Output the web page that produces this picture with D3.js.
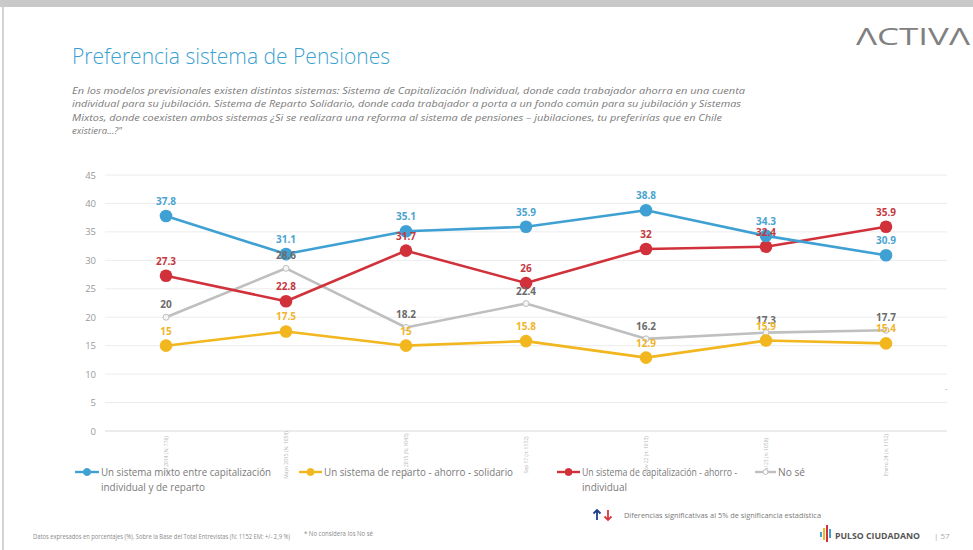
<!DOCTYPE html>
<html>
  <head>
    <meta charset="utf-8" />
    <title>Preferencia sistema de Pensiones</title>
    <script src="https://d3js.org/d3.v7.min.js"></script>
    <style>
        body { margin:0; background:#fff; }
        text { font-family: "Open Sans", "Noto Sans", sans-serif; }
    </style>
  </head>
  <body>
    <svg id="viz"></svg>
    <script>
    var width = 973, height = 550;

    // data
    var periods = ["Jul 2014 (N: 776)", "Mayo 2015 (N: 1059)", "Oct 2015 (N: 1043)", "Sep 17 (n: 1132)", "Nov 22 (n: 1013)", "Jul 23 (n: 1058)", "Enero 24 (n: 1152)"];
    var mixto = [37.8, 31.1, 35.1, 35.9, 38.8, 34.3, 30.9];
    var reparto = [15, 17.5, 15, 15.8, 12.9, 15.9, 15.4];
    var capitalizacion = [27.3, 22.8, 31.7, 26, 32, 32.4, 35.9];
    var noSe = [20, 28.6, 18.2, 22.4, 16.2, 17.3, 17.7];
    var yTicks = [0, 5, 10, 15, 20, 25, 30, 35, 40, 45];

    var series = [
      {name: "No sé", values: noSe, color: "#bfbfbf", label: "#6b6b6b", r: 3, hollow: true},
      {name: "Un sistema de reparto - ahorro - solidario", values: reparto, color: "#f2b61f", label: "#f0b52a", r: 6.3},
      {name: "Un sistema de capitalización - ahorro - individual", values: capitalizacion, color: "#d1313b", label: "#c4383f", r: 6.3},
      {name: "Un sistema mixto entre capitalización individual y de reparto", values: mixto, color: "#3fa1d3", label: "#4ba4d0", r: 6.3}
    ];

    var svg = d3.select("#viz").attr("width", width).attr("height", height);

    // slide frame
    svg.append("rect").attr("width", width).attr("height", height).attr("fill", "#fff");
    svg.append("rect").attr("x", 0).attr("y", 0).attr("width", width).attr("height", 7).attr("fill", "#c9c9c9");
    svg.append("rect").attr("x", 2).attr("y", 7).attr("width", 2).attr("height", height - 7).attr("fill", "#d4d4d4");

    // header
    svg.append("text").attr("x", 72).attr("y", 64)
      .attr("font-size", 22).attr("fill", "#3a9fd1").attr("font-weight", 300)
      .attr("textLength", 318).attr("lengthAdjust", "spacingAndGlyphs")
      .text("Preferencia sistema de Pensiones");

    svg.append("text").attr("x", 856).attr("y", 45)
      .attr("font-size", 23).attr("fill", "#808080").attr("font-weight", 400)
      .attr("textLength", 114).attr("lengthAdjust", "spacingAndGlyphs")
      .text("ΛCTIVΛ");

    var sub = [
      ["En los modelos previsionales existen distintos sistemas: Sistema de Capitalización Individual, donde cada trabajador ahorra en una cuenta", 673],
      ["individual para su jubilación. Sistema de Reparto Solidario, donde cada trabajador a porta a un fondo común para su jubilación y Sistemas", 669],
      ["Mixtos, donde coexisten ambos sistemas ¿Si se realizara una reforma al sistema de pensiones – jubilaciones, tu preferirías que en Chile", 650],
      ["existiera...?\"", 50]
    ];
    svg.append("g").selectAll("text").data(sub).enter().append("text")
      .attr("x", 72).attr("y", function(d, i) { return 94 + i * 13.3; })
      .attr("font-size", 9.3).attr("font-style", "italic").attr("fill", "#7a7a7a")
      .attr("textLength", function(d) { return d[1]; }).attr("lengthAdjust", "spacingAndGlyphs")
      .text(function(d) { return d[0]; });

    // chart
    var x = d3.scaleBand().domain(periods).range([106, 946]);
    var y = d3.scaleLinear().domain([0, 45]).range([431, 175]);

    var grid = svg.append("g");
    grid.selectAll("line").data(yTicks).enter().append("line")
      .attr("x1", 105).attr("x2", 947)
      .attr("y1", function(d) { return y(d); }).attr("y2", function(d) { return y(d); })
      .attr("stroke", function(d) { return d === 0 ? "#d9d9d9" : "#ececec"; }).attr("stroke-width", 1);

    var yAxis = svg.append("g").attr("transform", "translate(96,0)")
      .call(d3.axisLeft(y).tickValues(yTicks).tickSize(0).tickPadding(0));
    yAxis.select(".domain").remove();
    yAxis.selectAll("text").attr("font-size", 9.5).attr("fill", "#9a9a9a").attr("font-family", "Open Sans, sans-serif");

    var xAxis = svg.append("g").attr("transform", "translate(0,436)")
      .call(d3.axisBottom(x).tickSize(0).tickPadding(0));
    xAxis.select(".domain").remove();
    xAxis.selectAll("text")
      .attr("font-size", 5).attr("fill", "#b5b5b5").attr("font-family", "Open Sans, sans-serif")
      .attr("transform", "translate(0,19) rotate(-90)")
      .attr("text-anchor", "middle").attr("dy", "0.35em").attr("y", 0);

    var line = d3.line()
      .x(function(d, i) { return x(periods[i]) + x.bandwidth() / 2; })
      .y(function(d) { return y(d); });

    var lines = svg.append("g");
    series.forEach(function(s) {
      lines.append("path").datum(s.values)
        .attr("d", line).attr("fill", "none")
        .attr("stroke", s.color).attr("stroke-width", 2.6).attr("stroke-linejoin", "round");
    });
    series.forEach(function(s) {
      lines.append("g").selectAll("circle").data(s.values).enter().append("circle")
        .attr("cx", function(d, i) { return x(periods[i]) + x.bandwidth() / 2; })
        .attr("cy", function(d) { return y(d); })
        .attr("r", s.r)
        .attr("fill", s.hollow ? "#f4f4f4" : s.color)
        .attr("stroke", s.color).attr("stroke-width", s.hollow ? 1 : 0);
    });
    series.forEach(function(s) {
      lines.append("g").selectAll("text").data(s.values).enter().append("text")
        .attr("x", function(d, i) { return x(periods[i]) + x.bandwidth() / 2; })
        .attr("y", function(d) { return y(d) - (s.hollow ? 9 : 11); })
        .attr("text-anchor", "middle").attr("font-size", 10).attr("font-weight", 700)
        .attr("fill", s.label)
        .text(function(d) { return d; });
    });

    svg.append("text").attr("x", 945).attr("y", 391).attr("font-size", 8).attr("fill", "#aaa").text("-");

    // legend
    var legend = [
      {s: series[3], x: 75, w: 24, lines: [["Un sistema mixto entre capitalización", 170], ["individual y de reparto", 104]]},
      {s: series[1], x: 299, w: 23, lines: [["Un sistema de reparto - ahorro - solidario", 189]]},
      {s: series[2], x: 557, w: 23, lines: [["Un sistema de capitalización - ahorro -", 155], ["individual", 45]]},
      {s: series[0], x: 755, w: 21, lines: [["No sé", 27]]}
    ];
    var lg = svg.append("g");
    legend.forEach(function(l) {
      lg.append("line").attr("x1", l.x).attr("x2", l.x + l.w).attr("y1", 472).attr("y2", 472)
        .attr("stroke", l.s.color).attr("stroke-width", 2.4);
      lg.append("circle").attr("cx", l.x + l.w / 2).attr("cy", 472).attr("r", l.s.hollow ? 2.5 : 3.5)
        .attr("fill", l.s.hollow ? "#fff" : l.s.color).attr("stroke", l.s.color).attr("stroke-width", 1);
      l.lines.forEach(function(t, i) {
        lg.append("text").attr("x", l.x + l.w + 2).attr("y", 476 + i * 14.5)
          .attr("font-size", 10.5).attr("fill", "#7a7a7a")
          .attr("textLength", t[1]).attr("lengthAdjust", "spacingAndGlyphs")
          .text(t[0]);
      });
    });

    // significance note: arrows
    var arrow = function(cx, up, color) {
      var t = up ? -1 : 1, y0 = 515;
      svg.append("path")
        .attr("d", "M" + cx + "," + (y0 - 5 * t) + " L" + cx + "," + (y0 + 5 * t) +
                   " M" + (cx - 3.5) + "," + (y0 + 1.5 * t) + " L" + cx + "," + (y0 + 5 * t) + " L" + (cx + 3.5) + "," + (y0 + 1.5 * t))
        .attr("fill", "none").attr("stroke", color).attr("stroke-width", 1.8);
    };
    arrow(597, true, "#1f3f8f");
    arrow(608, false, "#d9363e");
    svg.append("text").attr("x", 624).attr("y", 518).attr("font-size", 6.3).attr("fill", "#7a7a7a")
      .attr("textLength", 197).attr("lengthAdjust", "spacingAndGlyphs")
      .text("Diferencias  significativas  al 5% de significancia estadística");

    // footer
    svg.append("text").attr("x", 33).attr("y", 539).attr("font-size", 7).attr("fill", "#8a8a8a")
      .attr("textLength", 257).attr("lengthAdjust", "spacingAndGlyphs")
      .text("Datos expresados en porcentajes (%). Sobre la Base del Total Entrevistas (N: 1152  EM: +/- 2,9 %)");
    svg.append("text").attr("x", 304).attr("y", 536).attr("font-size", 6.2).attr("fill", "#8a8a8a")
      .attr("textLength", 69).attr("lengthAdjust", "spacingAndGlyphs")
      .text("* No considera los No sé");

    // pulso ciudadano logo
    var bars = [[820, 532, 2, 5, "#3fa1d3"], [823, 528, 2, 12, "#f2b61f"], [826, 525, 2, 17, "#d1313b"], [829, 529, 2, 9, "#3fa1d3"]];
    svg.append("g").selectAll("rect").data(bars).enter().append("rect")
      .attr("x", function(d) { return d[0]; }).attr("y", function(d) { return d[1]; })
      .attr("width", function(d) { return d[2]; }).attr("height", function(d) { return d[3]; })
      .attr("fill", function(d) { return d[4]; });
    svg.append("text").attr("x", 835).attr("y", 539).attr("font-size", 8).attr("font-weight", 700).attr("fill", "#555")
      .attr("textLength", 85).attr("lengthAdjust", "spacingAndGlyphs")
      .text("PULSO CIUDADANO");
    svg.append("text").attr("x", 934).attr("y", 539).attr("font-size", 8).attr("fill", "#aaa").text("|   57");
    </script>
  </body>
</html>
